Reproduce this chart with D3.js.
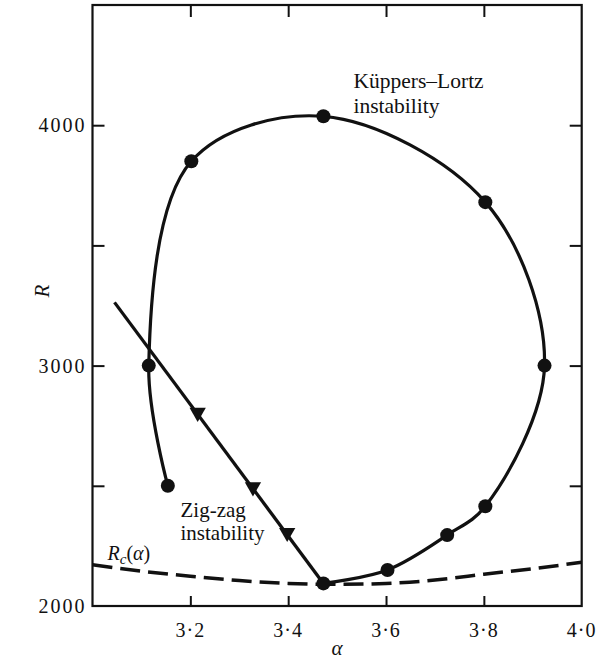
<!DOCTYPE html>
<html>
<head>
<meta charset="utf-8">
<script src="https://cdn.jsdelivr.net/npm/d3@7"></script>
<style>
  body { margin: 0; background: #fff; }
  svg { display: block; }
  .lbl { font-family: "Liberation Serif", serif; fill: #111; }
</style>
</head>
<body>
<div id="chart"></div>
<script>
// Kuppers-Lortz stability curve (circles), in drawing order
var klAlpha = [3.154, 3.115, 3.202, 3.472, 3.803, 3.924, 3.803, 3.725, 3.603, 3.472];
var klR     = [2500, 3000, 3850, 4037, 3680, 3000, 2415, 2295, 2150, 2094];

// zig-zag boundary: straight line, triangles are the measured points
var zzLineAlpha = [3.045, 3.472];
var zzLineR     = [3263, 2094];
var zzAlpha = [3.215, 3.328, 3.398];
var zzR     = [2805, 2495, 2305];

// marginal curve Rc(alpha)
var rcAlpha = [3.0, 3.1, 3.2, 3.3, 3.4, 3.5, 3.6, 3.7, 3.8, 3.9, 4.0];
var rcR     = [2172, 2145, 2124, 2106, 2094, 2090, 2094, 2108, 2132, 2155, 2182];

var xTicks = [3.2, 3.4, 3.6, 3.8];
var xTickLabels = ["3·2", "3·4", "3·6", "3·8", "4·0"];
var xLabelVals = [3.2, 3.4, 3.6, 3.8, 4.0];
var yTicks = [2500, 3000, 3500, 4000];
var yLabelVals = [2000, 3000, 4000];

var W = 599, H = 662;
var margin = {top: 5, right: 17.3, bottom: 56, left: 92.5};
var width = W - margin.left - margin.right;
var height = H - margin.top - margin.bottom;

var svg = d3.select("#chart")
    .append("svg")
        .attr("width", W)
        .attr("height", H)
    .append("g")
        .attr("transform", "translate(" + margin.left + "," + margin.top + ")");

var xScale = d3.scaleLinear().domain([3.0, 4.0]).range([0, width]);
var yScale = d3.scaleLinear().domain([2000, 4500]).range([height, 0]);

// axes with inward ticks, no labels (labels drawn separately)
var tick = 12;
svg.append("g")
    .attr("transform", "translate(0," + height + ")")
    .call(d3.axisBottom(xScale).tickValues(xTicks).tickSize(-10).tickFormat(""));
svg.append("g")
    .call(d3.axisTop(xScale).tickValues(xTicks).tickSize(-tick).tickFormat(""));
svg.append("g")
    .call(d3.axisLeft(yScale).tickValues(yTicks).tickSize(-tick).tickFormat(""));
svg.append("g")
    .attr("transform", "translate(" + width + ",0)")
    .call(d3.axisRight(yScale).tickValues(yTicks).tickSize(-tick).tickFormat(""));

svg.selectAll(".domain").remove();
svg.selectAll(".tick line").attr("stroke", "#111").attr("stroke-width", 2);

// frame
svg.append("rect")
    .attr("x", 0).attr("y", 0)
    .attr("width", width).attr("height", height)
    .attr("fill", "none")
    .attr("stroke", "#111")
    .attr("stroke-width", 2.2);

// tick labels
svg.selectAll("text.xl")
    .data(xLabelVals)
    .enter().append("text")
    .attr("class", "lbl xl")
    .attr("x", d => xScale(d))
    .attr("y", height + 31)
    .attr("text-anchor", "middle")
    .style("font-size", "20px")
    .style("letter-spacing", "1px")
    .text((d, i) => xTickLabels[i]);

svg.selectAll("text.yl")
    .data(yLabelVals)
    .enter().append("text")
    .attr("class", "lbl yl")
    .attr("x", -6)
    .attr("y", d => yScale(d))
    .attr("dy", "0.35em")
    .attr("text-anchor", "end")
    .style("font-size", "20px")
    .style("letter-spacing", "2px")
    .text(d => d);

// axis titles
svg.append("text")
    .attr("class", "lbl")
    .attr("x", xScale(3.5))
    .attr("y", height + 49)
    .attr("text-anchor", "middle")
    .style("font-size", "21px")
    .style("font-style", "italic")
    .text("α");

svg.append("text")
    .attr("class", "lbl")
    .attr("transform", "translate(" + (-44) + "," + yScale(3310) + ") rotate(-90)")
    .attr("text-anchor", "middle")
    .style("font-size", "21px")
    .style("font-style", "italic")
    .text("R");

// Rc(alpha) dashed
var rcData = rcAlpha.map((a, i) => [a, rcR[i]]);
svg.append("path")
    .datum(rcData)
    .attr("fill", "none")
    .attr("stroke", "#111")
    .attr("stroke-width", 3.5)
    .attr("stroke-dasharray", "20,8")
    .attr("d", d3.line()
        .x(d => xScale(d[0]))
        .y(d => yScale(d[1]))
        .curve(d3.curveNatural));

// Kuppers-Lortz curve
var klData = klAlpha.map((a, i) => [a, klR[i]]);
svg.append("path")
    .datum(klData)
    .attr("fill", "none")
    .attr("stroke", "#111")
    .attr("stroke-width", 3.2)
    .attr("d", d3.line()
        .x(d => xScale(d[0]))
        .y(d => yScale(d[1]))
        .curve(d3.curveCatmullRom.alpha(0.5)));

// zig-zag line
svg.append("path")
    .datum(zzLineAlpha.map((a, i) => [a, zzLineR[i]]))
    .attr("fill", "none")
    .attr("stroke", "#111")
    .attr("stroke-width", 3.3)
    .attr("d", d3.line().x(d => xScale(d[0])).y(d => yScale(d[1])));

svg.selectAll("circle.kl")
    .data(klData)
    .enter().append("circle")
    .attr("class", "kl")
    .attr("cx", d => xScale(d[0]))
    .attr("cy", d => yScale(d[1]))
    .attr("r", 7)
    .attr("fill", "#111");

svg.selectAll("path.tri")
    .data(zzAlpha.map((a, i) => [a, zzR[i]]))
    .enter().append("path")
    .attr("class", "tri")
    .attr("d", d3.symbol().type(d3.symbolTriangle).size(115))
    .attr("transform", d => "translate(" + xScale(d[0]) + "," + yScale(d[1]) + ") rotate(180)")
    .attr("fill", "#111");

// annotations
var klText = svg.append("text")
    .attr("class", "lbl")
    .style("font-size", "21.5px")
    .attr("x", 261)
    .attr("y", 83);
klText.append("tspan").attr("x", 261).attr("dy", 0).text("Küppers–Lortz");
klText.append("tspan").attr("x", 261).attr("dy", 25).text("instability");

var zzText = svg.append("text")
    .attr("class", "lbl")
    .style("font-size", "21px")
    .attr("x", 88)
    .attr("y", 512);
zzText.append("tspan").attr("x", 88).attr("dy", 0).text("Zig-zag");
zzText.append("tspan").attr("x", 88).attr("dy", 23).text("instability");

var rcText = svg.append("text")
    .attr("class", "lbl")
    .style("font-size", "20px")
    .attr("x", 15)
    .attr("y", 555);
rcText.append("tspan").style("font-style", "italic").text("R");
rcText.append("tspan").style("font-style", "italic").style("font-size", "15px").attr("dy", 4).text("c");
rcText.append("tspan").attr("dy", -4).text("(");
rcText.append("tspan").style("font-style", "italic").text("α");
rcText.append("tspan").text(")");
</script>
</body>
</html>
